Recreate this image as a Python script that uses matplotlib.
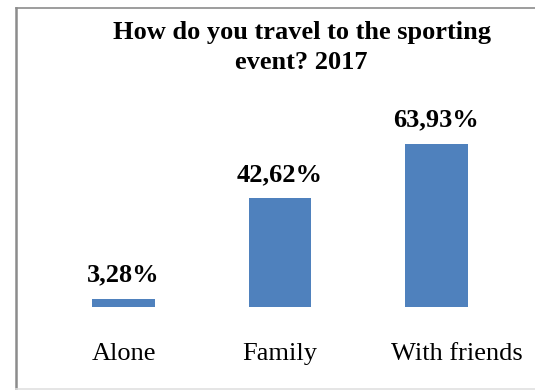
import matplotlib.pyplot as plt
from matplotlib.lines import Line2D
from matplotlib.transforms import ScaledTranslation

# Datos de la encuesta 2017
categorias = ["Alone", "Family", "With friends"]
porcentajes = [3.28, 42.62, 63.93]
etiquetas = ["3,28%", "42,62%", "63,93%"]

plt.rcParams["font.family"] = ["Liberation Serif", "DejaVu Serif"]

fig = plt.figure(figsize=(5.35, 3.9), dpi=100)
ax = fig.add_axes([45.25 / 535, (390 - 307) / 390, 469.5 / 535, 178.5 / 390])

x = range(len(categorias))
ax.bar(x, porcentajes, width=0.40, color="#4F81BD")
ax.set_xlim(-0.5, 2.5)
ax.set_ylim(0, 70)

# Etiquetas de valor encima de cada barra
for xi, valor, texto in zip(x, porcentajes, etiquetas):
    ax.annotate(texto, (xi, valor), xytext=(0, 9), textcoords="offset points",
                ha="center", va="bottom", fontsize=19, fontweight="bold")

ax.set_xticks(list(x))
ax.set_xticklabels(categorias, fontsize=19)
ax.tick_params(axis="x", length=0, pad=26)
ax.set_yticks([])
for lado in ax.spines.values():
    lado.set_visible(False)

# la última etiqueta queda algo desplazada a la derecha
ultima = ax.get_xticklabels()[-1]
ultima.set_transform(ultima.get_transform() +
                     ScaledTranslation(0.2, 0, fig.dpi_scale_trans))

fig.text(0.564, 1 - 47.5 / 390, "How do you travel to the sporting\nevent? 2017",
         ha="center", va="center", fontsize=19, fontweight="bold",
         linespacing=1.4)

# Marco del gráfico (arriba, izquierda y abajo)
def px(xp, yp):
    return xp / 535, 1 - yp / 390

x0, y0 = px(15.5, 8)
x1, y1 = px(535, 389)
fig.add_artist(Line2D([x0, x1], [y0, y0], color="#8c8c8c", linewidth=1.2,
                      transform=fig.transFigure))
fig.add_artist(Line2D([x0, x0], [y0, 0], color="#8c8c8c", linewidth=1.8,
                      transform=fig.transFigure))
fig.add_artist(Line2D([x0, x1], [y1, y1], color="#e0e0e0", linewidth=1.2,
                      transform=fig.transFigure))

plt.savefig("out.png", dpi=100)
